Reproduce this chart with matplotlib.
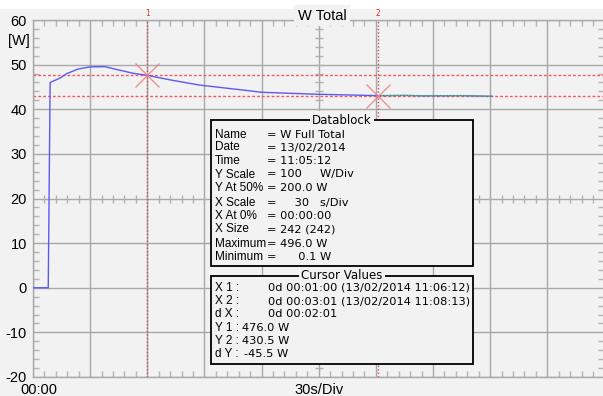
import numpy as np
import matplotlib.pyplot as plt
from matplotlib.patches import Rectangle
from matplotlib.ticker import MultipleLocator
import matplotlib.transforms as mtransforms

# recorded power trace (display units = W / 10), time in seconds
t_sec = [0, 8.0, 9.0, 14.2, 17.8, 23.6, 30, 37.8, 44, 52.7, 60, 73, 87.7,
         110.4, 120, 140, 150, 166, 181, 195, 207, 225, 241]
w_vals = [0, 0, 46.0, 47.0, 48.0, 49.0, 49.5, 49.55, 48.9, 48.05, 47.6, 46.5, 45.4,
          44.3, 43.8, 43.5, 43.35, 43.2, 43.05, 43.1, 43.0, 43.05, 42.9]

cursor_t = [60, 181]
cursor_w = [47.6, 43.05]
cursor_names = ['1', '2']

y_ticks = [-20, -10, 0, 10, 20, 30, 40, 50, 60]
x_ticks = [0, 30, 60, 90, 120, 150, 180, 210, 240, 270, 300]
x_labels = ['00:00', '', '', '', '', '30s/Div', '', '', '', '', '']

block_keys = ['Name', 'Date', 'Time', 'Y Scale', 'Y At 50%', 'X Scale',
              'X At 0%', 'X Size', 'Maximum', 'Minimum']
block_vals = ['= W Full Total', '= 13/02/2014', '= 11:05:12', '= 100     W/Div',
              '= 200.0 W', '=     30   s/Div', '= 00:00:00', '= 242 (242)',
              '= 496.0 W', '=      0.1 W']

cur_keys = ['X 1 :', 'X 2 :', 'd X :', 'Y 1 :', 'Y 2 :', 'd Y :']
cur_vals = ['0d 00:01:00 (13/02/2014 11:06:12)', '0d 00:03:01 (13/02/2014 11:08:13)',
            '0d 00:02:01', '476.0 W', '430.5 W', '-45.5 W']

BG = '#f2f2f2'
GRID = '#a8a8a8'

fig = plt.figure(figsize=(6.03, 3.96), dpi=100, facecolor=BG)
ax = fig.add_axes([33 / 603, 19 / 396, 571.4 / 603, 357 / 396])
ax.set_facecolor(BG)
ax.set_xlim(0, 300)
ax.set_ylim(-20, 60)
for s in ax.spines.values():
    s.set_color(GRID)
    s.set_linewidth(1)

ax.set_xticks(x_ticks)
ax.set_xticklabels(x_labels, fontsize=10.5, family='Liberation Sans')
ax.set_yticks(y_ticks)
ax.set_yticklabels([str(v) for v in y_ticks], fontsize=10.5, family='Liberation Sans')
ax.xaxis.set_minor_locator(MultipleLocator(6))
ax.yaxis.set_minor_locator(MultipleLocator(2))
ax.tick_params(which='major', length=0, pad=4.5)
ax.tick_params(which='minor', direction='in', length=4, color='#b4b4b4', width=1,
               top=True, bottom=True, left=True, right=True)
ax.grid(True, which='major', color=GRID, lw=1)
ax.set_axisbelow(True)

# shift the first time label a little to the right, like the original
lbl = ax.get_xticklabels()[0]
lbl.set_transform(lbl.get_transform() + mtransforms.ScaledTranslation(6 / 100, 0, fig.dpi_scale_trans))

# centre cross-hair ticks
xs = np.arange(6, 300, 6)
ys = np.arange(-18, 60, 2)
ax.plot(xs, [20] * len(xs), ls='none', marker='|', ms=6, mew=1, color='#b0b0b0', zorder=1)
ax.plot([150] * len(ys), ys, ls='none', marker='_', ms=6, mew=1, color='#b0b0b0', zorder=1)

# cursors
for t, w, n in zip(cursor_t, cursor_w, cursor_names):
    ax.axvline(t, color='#d04848', ls=(0, (1, 1.5)), lw=1, zorder=2)
    ax.axhline(w, color='#f25a5a', ls=(0, (2, 1.5)), lw=1, zorder=2)
    ax.text(t, 60.5, n, color='#e03030', fontsize=5.5, ha='center', va='bottom', clip_on=False)

ax.plot(t_sec, w_vals, color='#5a5af0', lw=1, zorder=3)
t_after = [t for t in t_sec if t >= cursor_t[1]]
w_after = w_vals[len(t_sec) - len(t_after):]
ax.plot(t_after, w_after, color='#50c050', lw=0.8, ls=(0, (2, 1)), zorder=4)
ax.plot(cursor_t, cursor_w, ls='none', marker='x', ms=17, mew=1, color='#f08080', alpha=0.85, zorder=5)

# overlay in pixel coordinates for the title strip and info boxes
ov = fig.add_axes([0, 0, 1, 1], zorder=5)
ov.set_xlim(0, 603)
ov.set_ylim(396, 0)
ov.axis('off')
ov.patch.set_alpha(0)

ov.add_patch(Rectangle((0, 0), 603, 9, facecolor='white', edgecolor='none'))
ov.text(322, 15.5, 'W Total', fontsize=10.5, family='Liberation Sans', ha='center', va='center',
        bbox=dict(facecolor=BG, edgecolor='none', pad=2.5))
ov.text(8, 41, '[W]', fontsize=10.5, family='Liberation Sans', ha='left', va='center')

kf = dict(fontsize=8.5, family='Liberation Sans', ha='left', va='center')
vf = dict(fontsize=8.2, family='DejaVu Sans', ha='left', va='center')

ov.add_patch(Rectangle((211, 120), 262, 146, facecolor=BG, edgecolor='black', lw=1.3))
ov.text(342, 120, 'Datablock', fontsize=8.5, ha='center', va='center',
        bbox=dict(facecolor=BG, edgecolor='none', pad=1.5))
block_y = [134.5, 147.5, 160.5, 174.5, 188, 203, 216, 229.5, 244, 257.5]
for k, v, y in zip(block_keys, block_vals, block_y):
    ov.text(215, y, k, **kf)
    ov.text(267, y, v, **vf)

ov.add_patch(Rectangle((211, 276), 262, 88, facecolor=BG, edgecolor='black', lw=1.3))
ov.text(342, 275.5, 'Cursor Values', fontsize=8.5, ha='center', va='center',
        bbox=dict(facecolor=BG, edgecolor='none', pad=1.5))
cur_y = [288, 301, 314, 328, 341, 354]
cur_x = [268, 268, 268, 242, 242, 244]
for k, v, y, x in zip(cur_keys, cur_vals, cur_y, cur_x):
    ov.text(215, y, k, **kf)
    ov.text(x, y, v, **vf)

fig.savefig('out.png', dpi=100, facecolor=BG)
